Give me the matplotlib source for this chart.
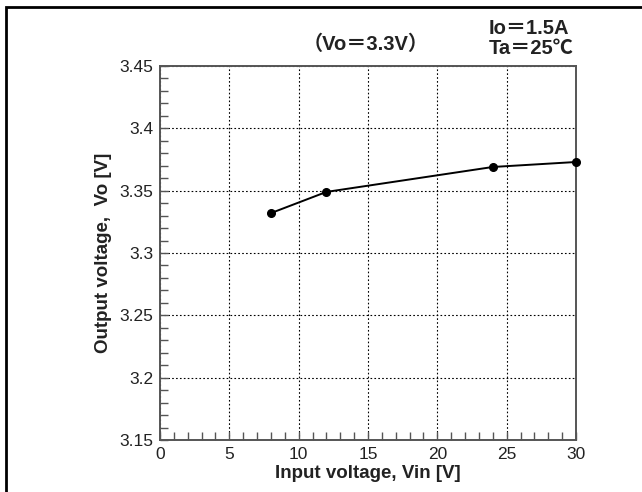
import matplotlib
matplotlib.use('Agg')
import matplotlib.pyplot as plt
from matplotlib.patches import Rectangle
from matplotlib.ticker import MultipleLocator

plt.rcParams['font.family'] = ['Liberation Sans', 'Noto Sans CJK JP', 'DejaVu Sans']

# Line regulation data, Vo = 3.3 V, Io = 1.5 A
vin = [8, 12, 24, 30]
vout = [3.332, 3.349, 3.369, 3.373]

fig = plt.figure(figsize=(6.42, 4.92), dpi=100)
W, H = 642, 492
ax = fig.add_axes([160 / W, 1 - 440 / H, (576 - 160) / W, (440 - 66) / H])

ax.plot(vin, vout, color='black', lw=1.4, marker='o', ms=5.5, zorder=5, clip_on=False)

ax.set_xlim(0, 30)
ax.set_ylim(3.15, 3.45)
ax.xaxis.set_major_locator(MultipleLocator(5))
ax.xaxis.set_minor_locator(MultipleLocator(1))
ax.yaxis.set_minor_locator(MultipleLocator(0.01))
ax.set_yticks([3.15, 3.2, 3.25, 3.3, 3.35, 3.4, 3.45])
ax.set_yticklabels(['3.15', '3.2', '3.25', '3.3', '3.35', '3.4', '3.45'])

ax.grid(True, which='major', color='black', linestyle=(0, (1.5, 2)), lw=0.8)
ax.tick_params(which='both', direction='in', top=False, right=False,
               colors='#555555', labelcolor='#222222', labelsize=12.5)
ax.tick_params(which='major', length=6, width=1)
ax.tick_params(which='minor', length=6, width=1)
ax.tick_params(axis='x', pad=5)
ax.tick_params(axis='y', pad=5)
for s in ax.spines.values():
    s.set_color('#555555')
    s.set_linewidth(1.4)

ax.set_xlabel('Input voltage, Vin [V]', fontsize=13.5, fontweight='bold',
              color='#222222', labelpad=2)
ax.set_ylabel('Output voltage,  Vo [V]', fontsize=13.5, fontweight='bold',
              color='#222222', labelpad=5)

fig.text(366 / W, 1 - 44 / H, '（Vo＝3.3V）', fontsize=14.5, fontweight='bold',
         ha='center', va='center', color='#222222')
fig.text(489 / W, 1 - 29 / H, 'Io＝1.5A', fontsize=14.5, fontweight='bold',
         ha='left', va='center', color='#222222')
fig.text(489 / W, 1 - 48 / H, 'Ta＝25℃', fontsize=14.5, fontweight='bold',
         ha='left', va='center', color='#222222')

# outer frame, open on the right and bottom edges
fig.patches.append(Rectangle((6 / W, -0.1), 1.2, 1 - 7 / H + 0.1,
                             transform=fig.transFigure, fill=False,
                             edgecolor='black', lw=2))

fig.savefig('out.png', dpi=100)
